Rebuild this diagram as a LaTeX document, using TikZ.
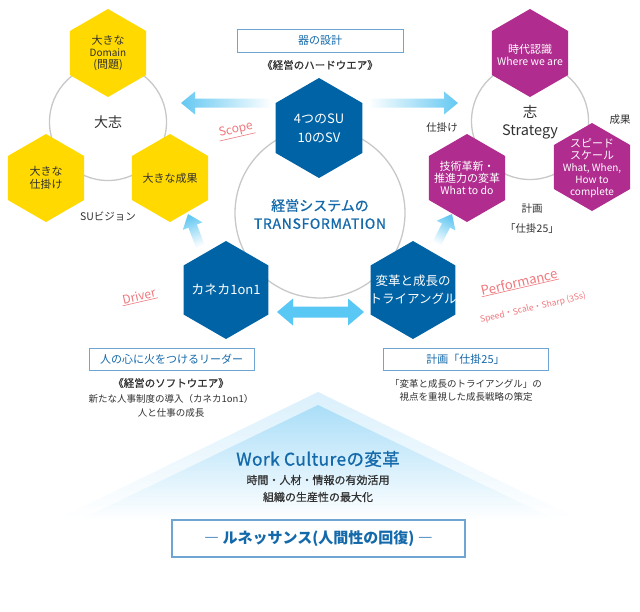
\documentclass[tikz,border=0pt]{standalone}
\usepackage{fontspec}
\setmainfont{Noto Sans CJK JP}
\newfontfamily\medfont[FakeBold=0.8]{Noto Sans CJK JP}
\usetikzlibrary{shapes.geometric,calc}
\definecolor{hexblue}{RGB}{0,99,165}
\definecolor{hexyellow}{RGB}{255,217,0}
\definecolor{hexpurple}{RGB}{176,44,142}
\definecolor{arrowblue}{RGB}{100,200,242}
\definecolor{solidblue}{RGB}{90,200,245}
\definecolor{pinkc}{RGB}{240,120,125}
\definecolor{textblue}{RGB}{20,105,170}
\definecolor{darktext}{RGB}{50,50,50}
\definecolor{circlegray}{RGB}{200,200,200}
\definecolor{boxblue}{RGB}{110,165,210}
\definecolor{triouter}{RGB}{218,240,252}
\definecolor{triinner}{RGB}{170,222,248}
\newcommand\fsz[2]{\fontsize{#1}{#2}\selectfont}
% single arrow: options, start, tip, shaft half, head half, head length
\newcommand\onearrow[6]{%
  \coordinate (#3-base) at ($(#3)!#6!(#2)$);
  \path[#1] ($(#2)!#4!90:(#3)$) -- ($(#3-base)!#4!90:(#3)$) -- ($(#3-base)!#5!90:(#3)$) -- (#3)
    -- ($(#3-base)!#5!-90:(#3)$) -- ($(#3-base)!#4!-90:(#3)$) -- ($(#2)!#4!-90:(#3)$) -- cycle;}
% double arrow: options, tipA, tipB, shaft half, head half, head length
\newcommand\twoarrow[6]{%
  \coordinate (#2-base) at ($(#2)!#6!(#3)$);
  \coordinate (#3-base) at ($(#3)!#6!(#2)$);
  \path[#1] (#2) -- ($(#2-base)!#5!90:(#3)$) -- ($(#2-base)!#4!90:(#3)$) -- ($(#3-base)!#4!90:(#3)$)
    -- ($(#3-base)!#5!90:(#3)$) -- (#3) -- ($(#3-base)!#5!-90:(#3)$) -- ($(#3-base)!#4!-90:(#3)$)
    -- ($(#2-base)!#4!-90:(#3)$) -- ($(#2-base)!#5!-90:(#3)$) -- cycle;}
\begin{document}
\begin{tikzpicture}[x=1pt,y=-1pt,
  hexa/.style={regular polygon, regular polygon sides=6, shape border rotate=30, inner sep=0pt, minimum size=#1},
  yhex/.style={hexa=#1, fill=hexyellow},
  bhex/.style={hexa=#1, fill=hexblue},
  phex/.style={hexa=#1, fill=hexpurple},
  ring/.style={circle, draw=circlegray, line width=1.3pt, inner sep=0pt, minimum size=#1},
  dtext/.style={text=darktext, align=center, inner sep=0pt},
  wtext/.style={text=white, align=center, inner sep=0pt},
  btext/.style={text=textblue, align=center, inner sep=0pt},
  ptext/.style={text=pinkc, inner sep=1pt, rotate=13},
  titlebox/.style={draw=boxblue, line width=0.9pt, text=textblue, fill=white, inner sep=0pt, align=center}
]
\useasboundingbox[fill=white] (0,0) rectangle (640,611);

% bottom triangle
\shade[top color=triouter, bottom color=white] (318,392) -- (580,520) -- (56,520) -- cycle;
\shade[top color=triinner, bottom color=white] (318,405) -- (556,520) -- (80,520) -- cycle;

% circles
\node[ring=117pt] (ringL) at (108,122) {};
\node[ring=170pt] (ringC) at (320,213) {};
\node[ring=117pt] (ringR) at (530,121) {};

% arrows
\coordinate (tlA) at (272,103); \coordinate (tlB) at (181,103);
\coordinate (trA) at (368,103); \coordinate (trB) at (458,103);
\coordinate (dlA) at (201,248); \coordinate (dlB) at (188,214);
\coordinate (drA) at (436,245); \coordinate (drB) at (452,214);
\coordinate (hA) at (277,312); \coordinate (hB) at (364,312);
\onearrow{left color=arrowblue, right color=white}{tlA}{tlB}{4.5pt}{11.5pt}{14pt}
\onearrow{left color=white, right color=arrowblue}{trA}{trB}{4.5pt}{11.5pt}{14pt}
\onearrow{top color=arrowblue, bottom color=white, shading angle=21}{dlA}{dlB}{4.5pt}{10.5pt}{13pt}
\onearrow{top color=arrowblue, bottom color=white, shading angle=-28}{drA}{drB}{4.5pt}{10.5pt}{13pt}
\twoarrow{fill=solidblue}{hA}{hB}{5.5pt}{13.5pt}{16pt}

% yellow group
\node[yhex=88pt] (yTop) at (108,53) {};
\node[yhex=88pt] (yBL) at (46,178) {};
\node[yhex=88pt] (yBR) at (170,178) {};
\node[dtext] (yTopT) at (yTop) {\fsz{11}{13}大きな\\\fsz{10}{13}Domain\\\fsz{11}{13}(問題)};
\node[dtext, font=\fsz{11}{13}] (yBLT) at (yBL) {大きな\\仕掛け};
\node[dtext, font=\fsz{11}{13}] (yBRT) at (yBR) {大きな成果};
\node[dtext, font=\fsz{14}{16}] (taishi) at (ringL) {大志};
\node[dtext, font=\fsz{10.5}{12}] (suv) at (108,216) {SUビジョン};

% purple group
\node[phex=88pt] (pTop) at (530,53) {};
\node[phex=88pt] (pBL) at (467,178) {};
\node[phex=88pt] (pBR) at (592,167) {};
\node[wtext] (pTopT) at (530,55) {\fsz{11}{15}時代認識\\\fsz{10.5}{15}Where we are};
\node[wtext] (pBLT) at (467,178) {\fsz{11}{13.5}技術革新・\\\fsz{11}{13.5}推進力の変革\\\fsz{10.5}{14.5}What to do};
\node[wtext] (pBRT) at (592,168) {\fsz{11}{12.5}スピード\\\fsz{11}{12.5}スケール\\\fsz{10}{12.5}What, When,\\\fsz{10}{12.5}How to\\\fsz{10}{12.5}complete};
\node[dtext, font=\fsz{14.5}{18}] (kokoro) at (530,122) {志\\Strategy};
\node[dtext, font=\fsz{10.5}{12}] (seika) at (620,120) {成果};
\node[dtext, font=\fsz{10.5}{12}] (shikake) at (442,128) {仕掛け};
\node[dtext, font=\fsz{10.5}{20}] (keikaku) at (532,219) {計画\\「仕掛25」};

% blue hexes
\node[bhex=100pt] (su) at (319,128) {};
\node[bhex=98pt] (kaneka) at (226,290) {};
\node[bhex=98pt] (tri) at (413,290) {};
\node[wtext, font=\fsz{13}{19}] (suT) at (su) {4つのSU\\10のSV};
\node[wtext, font=\fsz{13}{15}] (kanekaT) at (kaneka) {カネカ1on1};
\node[wtext, font=\fsz{12.5}{18}] (triT) at (tri) {変革と成長の\\トライアングル};
\node[btext, font=\fsz{14}{18}\medfont] (trans) at (320,214) {経営システムの\\\addfontfeature{LetterSpace=5}TRANSFORMATION};

% top box
\node[titlebox, minimum width=166pt, minimum height=23pt, font=\fsz{11}{12}] (utsuwa) at (320,40.5) {器の設計};
\node[dtext, font=\fsz{10.5}{12}\medfont] (hard) at (320,65) {《経営のハードウエア》};

% pink labels
\node[ptext, font=\fsz{12}{12}] (scope) at (236,130) {Scope};
\draw[pinkc, line width=0.6pt] (scope.south west) -- (scope.south east);
\node[ptext, font=\fsz{12}{12}] (driver) at (139,296) {Driver};
\draw[pinkc, line width=0.6pt] (driver.south west) -- (driver.south east);
\node[ptext, font=\fsz{13}{13}, inner sep=0.5pt] (perf) at (519,282) {Performance};
\draw[pinkc, line width=0.6pt] (perf.south west) -- (perf.south east);
\node[ptext, font=\fsz{8.5}{9}, inner sep=0pt] (speed) at (533,308) {Speed・Scale・Sharp (3Ss)};

% lower boxes
\node[titlebox, minimum width=165pt, minimum height=22pt, font=\fsz{11}{12}] (leader) at (171.5,359) {人の心に火をつけるリーダー};
\node[dtext, font=\fsz{10.5}{12}\medfont] (soft) at (171,383) {《経営のソフトウエア》};
\node[dtext, font=\fsz{9.5}{14}] (softd) at (171,406) {新たな人事制度の導入（カネカ1on1）\\人と仕事の成長};
\node[titlebox, minimum width=165pt, minimum height=22pt, font=\fsz{11}{12}] (plan) at (465.5,359) {計画「仕掛25」};
\node[dtext, font=\fsz{9.5}{13.5}] (pland) at (466,390.5) {「変革と成長のトライアングル」の\\視点を重視した成長戦略の策定};

% work culture
\node[btext, font=\fsz{17.5}{18}\medfont] (wc) at (318,459) {\addfontfeature{LetterSpace=2}Work Cultureの変革};
\node[dtext, font=\fsz{11}{17}\medfont] (wcd) at (318,488.5) {時間・人材・情報の有効活用\\組織の生産性の最大化};
\node[titlebox, line width=1.2pt, minimum width=293pt, minimum height=37pt, font=\fsz{15}{16}\bfseries] (ren) at (318.5,538.5) {― ルネッサンス(人間性の回復) ―};
\end{tikzpicture}
\end{document}
